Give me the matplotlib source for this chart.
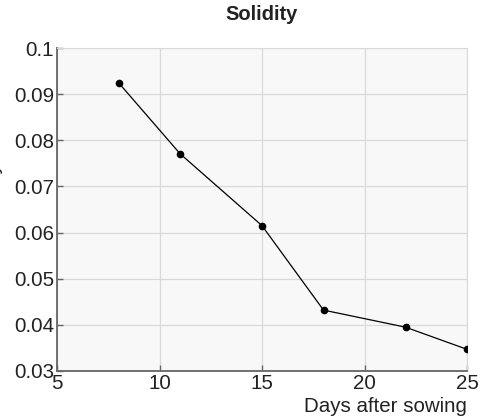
import matplotlib
matplotlib.use("Agg")
import matplotlib.pyplot as plt

# values
days = [8, 11, 15, 18, 22, 25]
solidity = [0.0925, 0.0771, 0.0615, 0.0432, 0.0395, 0.0347]
x_ticks = [5, 10, 15, 20, 25]
y_ticks = [0.03, 0.04, 0.05, 0.06, 0.07, 0.08, 0.09, 0.1]
y_tick_labels = ["0.03", "0.04", "0.05", "0.06", "0.07", "0.08", "0.09", "0.1"]

plt.rcParams['font.family'] = ['Liberation Sans', 'DejaVu Sans']

fig = plt.figure(figsize=(4.86, 4.16), dpi=100)
ax = fig.add_axes([57 / 486, 1 - 371 / 416, 410 / 486, 323 / 416])

ax.set_facecolor("#f8f8f8")
ax.plot(days, solidity, color="black", linewidth=0.9, marker="o",
        markersize=4.5, zorder=3)

ax.set_xlim(5, 25)
ax.set_ylim(0.03, 0.1)
ax.set_xticks(x_ticks)
ax.set_yticks(y_ticks)
ax.set_yticklabels(y_tick_labels)
ax.grid(True, color="#d9d9d9", linewidth=0.9)
ax.set_axisbelow(True)

for side in ["top", "right"]:
    ax.spines[side].set_color("#d9d9d9")
for side in ["left", "bottom"]:
    ax.spines[side].set_color("#666666")
    ax.spines[side].set_linewidth(1.3)

ax.tick_params(direction="in", length=4, width=1, colors="#666666",
               labelcolor="#222222", labelsize=14.8, pad=2)

ax.set_title("Solidity", fontsize=14.5, fontweight="bold", color="#222222", pad=20)
ax.set_xlabel("Days after sowing", fontsize=14.8, color="#222222")
ax.xaxis.set_label_coords(1.0, -0.08)
ax.xaxis.label.set_horizontalalignment("right")
ax.set_ylabel("Solidity", fontsize=14.8, color="#222222")
ax.yaxis.set_label_coords(-0.133, 0.545)

fig.savefig("out.png", dpi=100)
